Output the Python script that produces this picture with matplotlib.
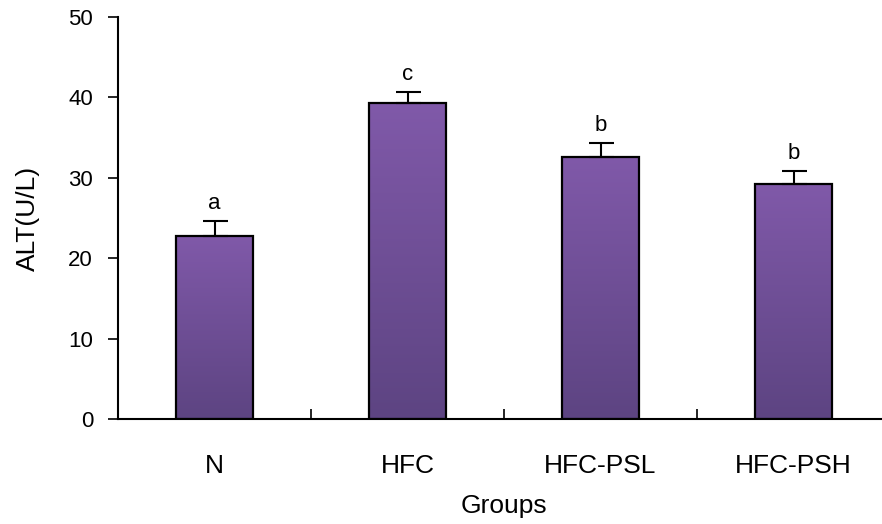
import numpy as np
import matplotlib
matplotlib.use("Agg")
import matplotlib.pyplot as plt
from matplotlib.colors import LinearSegmentedColormap

groups = ["N", "HFC", "HFC-PSL", "HFC-PSH"]
alt_mean = [22.8, 39.3, 32.6, 29.2]
alt_err = [1.8, 1.4, 1.7, 1.6]
sig_letters = ["a", "c", "b", "b"]

fig = plt.figure(figsize=(8.82, 5.24), dpi=100)
ax = fig.add_axes([118 / 882, 105 / 524, 772 / 882, 402 / 524])

# vertical gradient used for bar fill (light at top, dark at bottom)
grad_cmap = LinearSegmentedColormap.from_list("purp", ["#5d4482", "#8059a9"])
grad = np.linspace(0, 1, 256).reshape(-1, 1)

x = np.arange(len(groups))
bars = ax.bar(x, alt_mean, width=0.4, color="none", edgecolor="black",
              linewidth=1.6, zorder=3)
for b in bars:
    x0, y0 = b.get_x(), b.get_y()
    im = ax.imshow(grad, cmap=grad_cmap, aspect="auto", origin="lower",
                   extent=[x0, x0 + b.get_width(), y0, y0 + b.get_height()],
                   zorder=2)
    im.set_clip_path(b)

ax.errorbar(x, alt_mean, yerr=[np.zeros(len(x)), alt_err], fmt="none",
            ecolor="black", elinewidth=1.5, capsize=9, capthick=1.5, zorder=4)

for xi, m, e, s in zip(x, alt_mean, alt_err, sig_letters):
    ax.text(xi, m + e + 0.9, s, ha="center", va="bottom", fontsize=16,
            family="Liberation Sans")

ax.set_xlim(-0.5, 3.5)
ax.set_ylim(0, 50)
ax.set_yticks(range(0, 51, 10))
ax.set_xticks(x)
ax.set_xticklabels(groups, family="Liberation Sans", fontsize=19)
ax.set_xticks(x[:-1] + 0.5, minor=True)
ax.tick_params(axis="x", which="major", length=0, pad=25)
ax.tick_params(axis="x", which="minor", direction="in", length=7, width=1.2)
ax.tick_params(axis="y", direction="out", length=7, width=1.2,
               labelsize=16, pad=11)
for lab in ax.get_yticklabels():
    lab.set_family("Liberation Sans")

for side in ["top", "right"]:
    ax.spines[side].set_visible(False)
for side in ["left", "bottom"]:
    ax.spines[side].set_linewidth(1.5)

ax.set_ylabel("ALT(U/L)", fontsize=19, family="Liberation Sans", labelpad=20)
ax.set_xlabel("Groups", fontsize=19, family="Liberation Sans", labelpad=12)

fig.savefig("out.png", dpi=100)
